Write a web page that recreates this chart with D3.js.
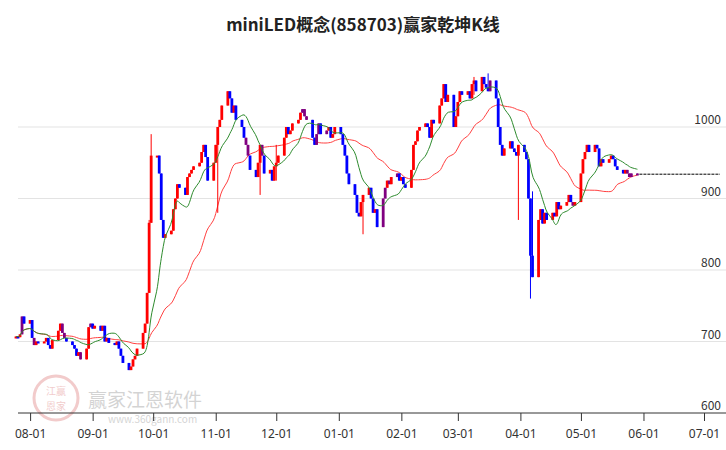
<!DOCTYPE html>
<html lang="en">
<head>
<meta charset="UTF-8">
<title>miniLED概念 K线</title>
<script src="https://d3js.org/d3.v7.min.js"></script>
<style>
  body { margin: 0; background: #fff; font-family: "Noto Sans CJK SC", "Noto Sans", sans-serif; }
</style>
</head>
<body>
<div id="chart"></div>
<script>
// Daily closes, one row per week (Mon..Fri), from 2022-07-25
const closes = [
  707,706,710,735,725, 730,705,695,700,698, 700,705,695,690,702, 715,725,712,705,700,
  695,690,680,685,675, 690,720,725,718,722, 715,722,700,705,698, 695,700,690,680,670,
  660,665,675,680,690, 712,725,768,866,960, 960,935,870,845,850, 855,885,900,920,915,
  905,930,935,940,945, 950,965,975,958,925, 950,975,1000,1010,1030, 1050,1040,1020,1030,1010,
  1000,985,975,960,940, 930,950,975,960,935, 940,925,945,950,960, 985,1000,990,995,1005,
  1010,1020,1025,1015,1010, 985,975,990,1005,990, 995,1000,985,990,1000, 990,975,960,935,920,
  905,880,875,895,905, 915,900,880,885,860, 900,915,925,920,930, 935,925,930,920,915,
  940,975,980,995,1000, 1005,1000,985,1010,1005, 1030,1040,1060,1035,1045, 1000,1015,1035,1050,1045,
  1050,1040,1060,1065,1050, 1070,1060,1055,1050,1065, 1040,1000,975,960,970, 980,970,965,960,975,
  965,955,900,820,790, 870,885,865,880,870, 880,875,895,885,890, 895,905,895,890,895,
  935,955,965,975,965, 975,970,945,955,950, 955,960,955,945,940, 935,940,935,930,935, 934
];
const firstOpen = 705;
// candles drawn in purple
const purpleIdx = [3, 7, 17, 18, 24, 27, 82, 83, 88, 102, 103, 104, 107, 108, 110, 130, 131, 133, 135, 169, 198, 217, 218, 219, 220];
// notable long shadows: [index, high, low]
const wicks = [[49, 990, 940], [48, 870, 780], [72, 930, 880], [87, 935, 905], [93, 975, 925], [124, 900, 850], [163, 1070, 1045], [168, 1075, 1055], [179, 920, 870], [183, 800, 760], [184, 910, 860]];
const yTicks = [600, 700, 800, 900, 1000];
const xTickLabels = ["08-01","09-01","10-01","11-01","12-01","01-01","02-01","03-01","04-01","05-01","06-01","07-01"];
const title = "miniLED概念(858703)赢家乾坤K线";

const W = 726, H = 450;
const svg = d3.select("#chart").append("svg").attr("width", W).attr("height", H);

// trading days: weekdays from 2022-07-25
const dates = [];
for (let d = new Date(2022, 6, 25); dates.length < closes.length; d = d3.timeDay.offset(d, 1)) {
  if (d.getDay() !== 0 && d.getDay() !== 6) dates.push(new Date(d));
}
const candles = closes.map((c, i) => {
  const o = i === 0 ? firstOpen : closes[i - 1];
  const w = wicks.find(v => v[0] === i);
  return {
    date: dates[i], open: o, close: c,
    high: w ? Math.max(w[1], o, c) : Math.max(o, c),
    low: w ? Math.min(w[2], o, c) : Math.min(o, c),
    color: purpleIdx.includes(i) ? "#800080" : (c >= o ? "#ff0000" : "#0000ff")
  };
});

const x = d3.scaleTime().domain([new Date(2022, 6, 26), new Date(2023, 6, 1)]).range([18, 704]);
const y = d3.scaleLinear().domain([600, 1000]).range([413, 127]);

// watermark
const wm = svg.append("g").attr("opacity", 0.25);
wm.append("circle").attr("cx", 56).attr("cy", 398).attr("r", 22).attr("fill", "none").attr("stroke", "#c33").attr("stroke-width", 3);
wm.append("text").attr("x", 56).attr("y", 395).attr("text-anchor", "middle").attr("font-size", 10).attr("fill", "#c33").text("江赢");
wm.append("text").attr("x", 56).attr("y", 410).attr("text-anchor", "middle").attr("font-size", 10).attr("fill", "#c33").text("恩家");
wm.append("text").attr("x", 88).attr("y", 407).attr("font-size", 19).attr("fill", "#555").text("赢家江恩软件");
wm.append("text").attr("x", 108).attr("y", 423).attr("font-size", 10).attr("fill", "#555").text("www.360gann.com");

// grid
svg.append("g").selectAll("line").data(yTicks.slice(1)).join("line")
  .attr("x1", 18).attr("x2", W).attr("y1", d => y(d)).attr("y2", d => y(d))
  .attr("stroke", "#e3e3e3").attr("stroke-width", 1);
svg.append("g").selectAll("text").data(yTicks).join("text")
  .attr("x", 721).attr("y", d => y(d) - 3).attr("text-anchor", "end")
  .attr("font-size", 12).attr("fill", "#333").text(d => d);

// axis
const tickDates = xTickLabels.map((s, i) => new Date(2022, 7 + i, 1));
const xAxis = svg.append("g").attr("transform", "translate(0,413)")
  .call(d3.axisBottom(x).tickValues(tickDates).tickSize(8).tickSizeOuter(0).tickFormat((d, i) => xTickLabels[i]));
xAxis.select(".domain").attr("d", `M18,0H${W}`).attr("stroke", "#333");
xAxis.selectAll(".tick line").attr("stroke", "#333");
xAxis.selectAll(".tick text").attr("font-size", 12).attr("fill", "#333").attr("y", 16)
  .attr("font-family", "'Noto Sans', sans-serif");

// moving averages
function ma(n) {
  return candles.map((c, i) => {
    const s = candles.slice(Math.max(0, i - n + 1), i + 1);
    return { date: c.date, v: d3.mean(s, d => d.close) };
  });
}
const line = d3.line().x(d => x(d.date)).y(d => y(d.v)).curve(d3.curveBasis);
svg.append("path").attr("d", line(ma(30))).attr("fill", "none").attr("stroke", "#ff4040").attr("stroke-width", 1);

// candles
const bw = 2.8;
const g = svg.append("g");
g.selectAll("line").data(candles).join("line")
  .attr("x1", d => x(d.date)).attr("x2", d => x(d.date))
  .attr("y1", d => y(d.high)).attr("y2", d => y(d.low))
  .attr("stroke", d => d.color).attr("stroke-width", 1);
g.selectAll("rect").data(candles).join("rect")
  .attr("x", d => x(d.date) - bw / 2).attr("width", bw)
  .attr("y", d => y(Math.max(d.open, d.close)))
  .attr("height", d => Math.max(2, Math.abs(y(d.open) - y(d.close))))
  .attr("fill", d => d.color);

svg.append("path").attr("d", line(ma(10))).attr("fill", "none").attr("stroke", "#2e8b2e").attr("stroke-width", 1);

// last price dashed line
const last = candles[candles.length - 1];
svg.append("line").attr("x1", x(last.date) + 2).attr("x2", 720)
  .attr("y1", y(last.close)).attr("y2", y(last.close))
  .attr("stroke", "#000").attr("stroke-dasharray", "3,1").attr("stroke-width", 1);

// title
svg.append("text").attr("x", 363).attr("y", 31).attr("text-anchor", "middle")
  .attr("font-size", 17).attr("font-weight", "bold").attr("fill", "#222").text(title);
</script>
</body>
</html>
